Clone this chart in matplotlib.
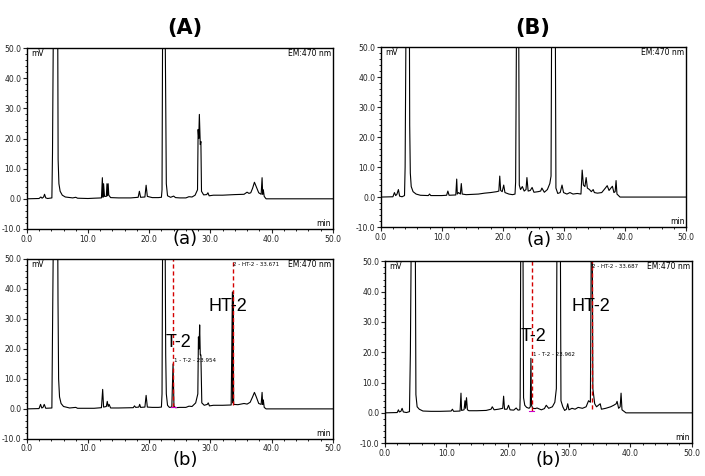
import numpy as np
import matplotlib.pyplot as plt
from matplotlib.ticker import MultipleLocator, FormatStrFormatter

# chromatogram traces: [time (min), signal (mV)]
# values above 50 mean the peak runs off the top of the plot
blank_a = np.array([
    [0, 0], [2.0, 0.1], [2.3, 0.6], [2.5, 0.2], [2.75, 0.6], [2.9, 1.5], [3.1, 0.3], [3.4, 0.1],
    [4.1, 0.3], [4.2, 15], [4.35, 60], [5.05, 60], [5.12, 13], [5.25, 5], [5.45, 2.5], [5.8, 1.2],
    [6.3, 0.6], [7.5, 0.3], [8.0, 0.5], [8.3, 0.2], [10, 0.1], [11, 0.2], [12.2, 0.3], [12.35, 7],
    [12.45, 0.5], [12.55, 5], [12.7, 0.8], [13.0, 0.8], [13.1, 5], [13.2, 1], [13.3, 5], [13.4, 1.2],
    [13.7, 0.4], [15, 0.3], [17, 0.3], [18.2, 0.5], [18.4, 2.5], [18.6, 0.5], [19.3, 0.6], [19.5, 4.5],
    [19.7, 0.8], [20.5, 0.4], [21.5, 0.4], [22.0, 0.5], [22.1, 3], [22.2, 60], [22.6, 60], [22.7, 33],
    [22.8, 5], [23.0, 1.0], [23.5, 0.5], [24.0, 0.9], [24.3, 0.4], [25, 0.3], [26, 0.3], [26.5, 0.7],
    [27, 0.6], [27.5, 1.2], [27.9, 3], [28.0, 23], [28.1, 20], [28.2, 28], [28.35, 18], [28.45, 19],
    [28.55, 2.5], [28.9, 1.3], [29.4, 1.4], [29.6, 2.0], [29.8, 1.0], [30.5, 1.2], [32, 1.2], [34, 1.4],
    [35.5, 1.5], [36.0, 2.2], [36.3, 1.8], [36.6, 2.0], [36.9, 3.5], [37.2, 5.5], [37.5, 4], [37.9, 2.0],
    [38.3, 1.5], [38.45, 7], [38.55, 1.5], [38.65, 3], [38.8, 0.8], [39.1, 0], [50, 0]])

blank_b = np.array([
    [0, 0], [2.0, 0.1], [2.25, 1.5], [2.45, 0.5], [2.65, 0.9], [2.9, 2.5], [3.1, 0.3], [3.5, 0.1],
    [3.9, 0.5], [4.0, 10], [4.15, 60], [4.7, 60], [4.75, 24], [4.85, 8], [5.0, 3.5], [5.3, 1.8],
    [5.8, 1.0], [6.5, 0.6], [7.8, 0.5], [8.0, 1.0], [8.2, 0.5], [10, 0.5], [10.8, 0.6], [11.0, 2.0],
    [11.2, 0.6], [12.3, 0.7], [12.45, 6], [12.55, 1.0], [12.75, 1.5], [13.05, 1.0], [13.2, 4.5],
    [13.35, 1.0], [14, 0.8], [15, 0.9], [16, 1.0], [17, 1.3], [18, 1.5], [19, 1.8], [19.35, 2.0],
    [19.5, 7], [19.65, 2.2], [19.9, 1.8], [20.15, 4], [20.35, 1.5], [21, 1.0], [21.6, 0.8], [22.0, 1.0],
    [22.1, 5], [22.25, 60], [22.6, 60], [22.7, 4], [22.9, 2.5], [23.2, 3.5], [23.5, 2.0], [23.8, 2.5],
    [23.95, 6.5], [24.15, 2.0], [24.5, 2.2], [24.8, 3.2], [25.1, 1.6], [25.8, 1.8], [26.2, 2.0],
    [26.4, 3.0], [26.8, 1.6], [27.3, 2.5], [27.7, 4.5], [27.9, 7], [28.0, 60], [28.6, 60], [28.7, 3],
    [29.0, 1.2], [29.4, 1.5], [29.7, 4], [29.95, 1.5], [30.5, 1.0], [31.0, 1.5], [31.5, 1.0],
    [32.2, 1.2], [32.8, 1.0], [33.0, 9], [33.2, 4], [33.45, 3.5], [33.65, 6.5], [33.85, 3.0],
    [34.2, 2.5], [34.5, 1.8], [34.8, 2.5], [35.0, 1.5], [35.5, 1.3], [36.2, 1.5], [36.8, 3], [37.1, 3.8],
    [37.4, 2.2], [37.7, 3.0], [37.95, 3.6], [38.2, 1.5], [38.4, 1.8], [38.55, 5.5], [38.7, 1.0],
    [39.2, 0], [50, 0]])

spiked_a = np.array([
    [0, 0], [2.0, 0.1], [2.25, 1.5], [2.45, 0.3], [2.65, 0.5], [2.85, 1.5], [3.1, 0.2], [4.1, 0.3],
    [4.2, 25], [4.35, 60], [5.05, 60], [5.1, 36], [5.2, 10], [5.35, 4], [5.6, 1.8], [6.0, 0.8], [7, 0.3],
    [8, 0.5], [8.3, 0.2], [9.5, 0.2], [11, 0.2], [12.2, 0.4], [12.4, 6.5], [12.55, 0.6], [13.0, 0.8],
    [13.15, 2.5], [13.3, 0.8], [13.45, 1.5], [13.7, 0.3], [15, 0.3], [17.4, 0.4], [17.6, 1.0],
    [17.8, 0.5], [18.3, 0.6], [18.45, 1.5], [18.6, 0.5], [19.3, 0.6], [19.5, 4.5], [19.7, 0.6],
    [20.5, 0.5], [21.5, 0.5], [22.0, 0.6], [22.1, 5], [22.2, 60], [22.6, 60], [22.7, 18], [22.8, 5],
    [23.0, 1.2], [23.3, 0.5], [23.7, 0.6], [23.9, 15], [24.05, 1.0], [24.3, 0.4], [25, 0.5], [26, 0.5],
    [26.5, 0.9], [27, 0.8], [27.6, 2], [27.95, 5], [28.05, 24], [28.15, 20], [28.25, 28], [28.35, 18],
    [28.45, 18], [28.6, 2], [29.0, 1.2], [29.5, 1.5], [29.65, 2.0], [29.85, 1.0], [30.5, 1.2],
    [32, 1.2], [33.4, 1.3], [33.6, 39], [33.67, 2], [33.72, 38], [33.8, 1.5], [34.5, 1.4], [35.5, 1.8],
    [36.0, 1.6], [36.5, 2.2], [36.9, 4], [37.2, 5.5], [37.5, 4], [37.9, 1.8], [38.3, 1.5], [38.45, 5.5],
    [38.55, 1.5], [38.65, 3], [38.8, 0.5], [39.1, 0], [50, 0]])

spiked_b = np.array([
    [0, 0], [2.0, 0.1], [2.2, 1.0], [2.35, 0.3], [2.6, 0.5], [2.8, 1.5], [3.0, 0.3], [3.5, 0.1],
    [4.0, 0.4], [4.15, 20], [4.3, 60], [4.95, 60], [5.05, 6], [5.25, 2], [5.6, 1.2], [6.2, 0.6],
    [7.5, 0.5], [9, 0.5], [10.8, 0.6], [11.0, 1.2], [11.2, 0.5], [12.25, 0.6], [12.4, 6.5], [12.5, 0.8],
    [12.9, 1.0], [13.05, 4.0], [13.15, 1.5], [13.3, 5], [13.45, 1.0], [13.7, 0.7], [15, 0.7],
    [16.5, 0.8], [17.3, 1.2], [17.5, 2.0], [17.8, 1.0], [18.5, 1.2], [19.2, 1.5], [19.35, 5.5],
    [19.5, 1.2], [19.9, 1.2], [20.15, 2.5], [20.4, 1.0], [21.0, 0.9], [21.4, 1.6], [21.7, 0.9],
    [22.0, 1.0], [22.05, 5], [22.15, 60], [22.5, 60], [22.6, 5], [22.8, 2.5], [23.1, 1.8], [23.5, 1.5],
    [23.7, 2.0], [23.8, 18], [23.9, 2.5], [24.1, 1.5], [24.5, 1.4], [24.8, 1.6], [25.5, 1.0],
    [26.0, 1.4], [26.3, 2.5], [26.7, 1.5], [27.3, 2.0], [27.7, 3.5], [27.95, 8], [28.05, 60], [28.6, 60],
    [28.7, 4], [29.0, 2.0], [29.3, 0.8], [29.6, 1.2], [29.8, 3.0], [30.0, 1.0], [30.5, 1.5], [31.0, 1.2],
    [31.5, 1.8], [32.2, 1.5], [32.8, 2.0], [33.2, 4], [33.5, 3.5], [33.65, 60], [33.8, 60], [33.9, 8],
    [34.2, 3], [34.5, 2], [34.8, 2.5], [35.1, 3.0], [35.3, 1.2], [36.0, 1.5], [36.8, 2.0], [37.3, 2.5],
    [37.7, 3.0], [37.85, 3.8], [38.1, 1.5], [38.35, 2], [38.5, 6.5], [38.65, 1.0], [39.3, 0], [50, 0]])

# identified peaks in the spiked runs
t2_time = [23.954, 23.962]
ht2_time = [33.671, 33.687]
t2_tag = ["1 - T-2 - 23.954", "1 - T-2 - 23.962"]
ht2_tag = ["2 - HT-2 - 33.671", "2 - HT-2 - 33.687"]

fig = plt.figure(figsize=(7.05, 4.76), dpi=100)

boxes = [[0.038, 0.519, 0.434, 0.380], [0.540, 0.523, 0.433, 0.378],
         [0.038, 0.078, 0.434, 0.378], [0.546, 0.069, 0.435, 0.382]]
traces = [blank_a, blank_b, spiked_a, spiked_b]
axs = []
for box, tr in zip(boxes, traces):
    ax = fig.add_axes(box)
    ax.plot(tr[:, 0], tr[:, 1], color="black", lw=0.8)
    ax.set_xlim(0, 50)
    ax.set_ylim(-10, 50)
    ax.xaxis.set_major_locator(MultipleLocator(10))
    ax.xaxis.set_minor_locator(MultipleLocator(2))
    ax.yaxis.set_major_locator(MultipleLocator(10))
    ax.yaxis.set_minor_locator(MultipleLocator(2))
    ax.xaxis.set_major_formatter(FormatStrFormatter("%.1f"))
    ax.yaxis.set_major_formatter(FormatStrFormatter("%.1f"))
    ax.tick_params(which="major", length=3, width=0.8, labelsize=5.5, pad=1, colors="#222222")
    ax.tick_params(which="minor", length=1.5, width=0.6)
    for s in ax.spines.values():
        s.set_linewidth(1.0)
    ax.text(0.015, 0.995, "mV", transform=ax.transAxes, fontsize=5.5, va="top", ha="left")
    ax.text(0.995, 0.995, "EM:470 nm", transform=ax.transAxes, fontsize=5.5, va="top", ha="right")
    ax.text(0.995, 0.005, "min", transform=ax.transAxes, fontsize=5.5, va="bottom", ha="right")
    axs.append(ax)

# red markers for the T-2 / HT-2 peaks in the spiked runs
t2_text_xy = [(24.8, 22), (24.3, 25.3)]
ht2_text_xy = [(32.8, 34), (33.6, 35)]
for i, ax in enumerate(axs[2:]):
    ax.plot([t2_time[i], t2_time[i]], [0.5, 50], color="#d40000", lw=1, ls=(0, (3, 2)))
    ax.plot([ht2_time[i], ht2_time[i]], [1.3, 50], color="#d40000", lw=1, ls=(0, (3, 2)))
    ax.plot([t2_time[i] - 0.4, t2_time[i] + 0.4], [0.5, 0.5], color="#cc00cc", lw=0.8)
    ax.text(t2_time[i] + 0.1, [16.3, 19.4][i], t2_tag[i], fontsize=4, va="center", ha="left")
    ax.text(ht2_time[i] + 0.1, 48.3, ht2_tag[i], fontsize=4, va="center", ha="left")
    ax.text(*t2_text_xy[i], "T-2", fontsize=13, ha="center", va="center", family="Liberation Sans")
    ax.text(*ht2_text_xy[i], "HT-2", fontsize=13, ha="center", va="center", family="Liberation Sans")

fig.text(0.262, 0.941, "(A)", fontsize=15, fontweight="bold", ha="center", va="center")
fig.text(0.755, 0.941, "(B)", fontsize=15, fontweight="bold", ha="center", va="center")
fig.text(0.262, 0.497, "(a)", fontsize=13, ha="center", va="center")
fig.text(0.765, 0.495, "(a)", fontsize=13, ha="center", va="center")
fig.text(0.263, 0.034, "(b)", fontsize=13, ha="center", va="center")
fig.text(0.777, 0.034, "(b)", fontsize=13, ha="center", va="center")

fig.savefig("out.png", dpi=100)
